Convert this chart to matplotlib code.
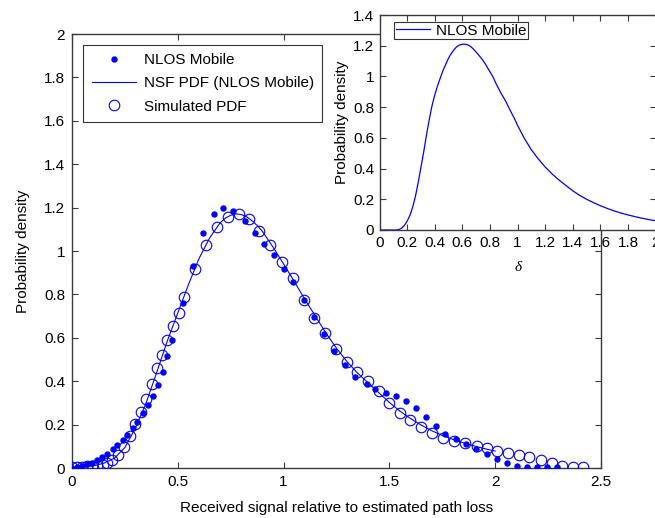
import matplotlib
matplotlib.use("Agg")
import matplotlib.pyplot as plt
import numpy as np

plt.rcParams['font.family'] = ['Liberation Sans', 'DejaVu Sans']

# Measured data (NLOS Mobile)
meas_x = [0, 0.023, 0.046, 0.069, 0.093, 0.117, 0.140, 0.167, 0.192, 0.214, 0.239, 0.261,
          0.287, 0.309, 0.337, 0.359, 0.381, 0.405, 0.428, 0.450, 0.474, 0.526,
          0.573, 0.618, 0.669, 0.715, 0.762, 0.818, 0.863, 0.909, 0.953, 1.003, 1.046,
          1.098, 1.145, 1.192, 1.240, 1.288, 1.337, 1.393, 1.434, 1.482, 1.530, 1.577,
          1.627, 1.674, 1.718, 1.763, 1.813, 1.861, 1.908, 1.960, 2.007, 2.054, 2.101,
          2.151, 2.199, 2.246, 2.293]
meas_y = [0.002, 0.005, 0.010, 0.018, 0.025, 0.037, 0.049, 0.063, 0.088, 0.106, 0.129, 0.152,
          0.183, 0.213, 0.252, 0.290, 0.333, 0.382, 0.444, 0.514, 0.588, 0.759,
          0.931, 1.081, 1.170, 1.199, 1.186, 1.139, 1.085, 1.031, 0.982, 0.916, 0.859,
          0.774, 0.694, 0.618, 0.541, 0.475, 0.421, 0.388, 0.364, 0.348, 0.334, 0.310,
          0.275, 0.234, 0.193, 0.158, 0.134, 0.112, 0.088, 0.065, 0.040, 0.022, 0.009,
          0.003, 0.003, 0.003, 0.003]

# NSF PDF fit curve
fit_x = [0, 0.05, 0.10, 0.15, 0.20, 0.25, 0.30, 0.35, 0.40, 0.45, 0.50, 0.55, 0.60, 0.65,
         0.70, 0.725, 0.75, 0.775, 0.80, 0.825, 0.85, 0.875, 0.90, 0.95, 1.00, 1.05, 1.10,
         1.15, 1.20, 1.25, 1.30, 1.35, 1.40, 1.45, 1.50, 1.55, 1.60, 1.65, 1.70, 1.75,
         1.80, 1.85, 1.90, 1.95, 2.00]
fit_y = [0, 0.004, 0.010, 0.022, 0.045, 0.095, 0.185, 0.300, 0.440, 0.585, 0.715, 0.845,
         0.965, 1.060, 1.130, 1.152, 1.165, 1.171, 1.168, 1.158, 1.140, 1.118, 1.090,
         1.018, 0.940, 0.860, 0.778, 0.700, 0.622, 0.552, 0.490, 0.437, 0.392, 0.347,
         0.302, 0.262, 0.228, 0.198, 0.172, 0.150, 0.132, 0.116, 0.102, 0.089, 0.078]

# Simulated PDF
sim_x = [0, 0.024, 0.048, 0.072, 0.096, 0.120, 0.144, 0.166, 0.190, 0.218, 0.246, 0.273,
         0.298, 0.325, 0.348, 0.376, 0.400, 0.424, 0.447, 0.476, 0.507, 0.529,
         0.581, 0.633, 0.684, 0.736, 0.789, 0.838, 0.885, 0.934, 0.991, 1.043, 1.098,
         1.145, 1.194, 1.246, 1.298, 1.348, 1.397, 1.449, 1.498, 1.549, 1.599, 1.651,
         1.703, 1.755, 1.807, 1.859, 1.912, 1.960, 2.010, 2.062, 2.112, 2.161, 2.215,
         2.267, 2.314, 2.369, 2.416]
sim_y = [0.005, 0.005, 0.006, 0.007, 0.009, 0.012, 0.016, 0.022, 0.037, 0.060, 0.097, 0.148,
         0.205, 0.256, 0.320, 0.388, 0.459, 0.520, 0.590, 0.654, 0.716, 0.790,
         0.918, 1.028, 1.109, 1.158, 1.171, 1.146, 1.094, 1.028, 0.951, 0.874, 0.776,
         0.690, 0.622, 0.548, 0.487, 0.444, 0.401, 0.355, 0.298, 0.252, 0.220, 0.190,
         0.163, 0.139, 0.124, 0.114, 0.100, 0.091, 0.079, 0.068, 0.060, 0.052, 0.037,
         0.025, 0.009, 0.006, 0.006]

# Inset curve
ins_x = [0, 0.12, 0.14, 0.16, 0.18, 0.20, 0.22, 0.24, 0.26, 0.28, 0.30, 0.32, 0.34, 0.36,
         0.38, 0.40, 0.42, 0.44, 0.46, 0.48, 0.50, 0.52, 0.54, 0.56, 0.58, 0.60, 0.62,
         0.64, 0.66, 0.68, 0.70, 0.72, 0.74, 0.76, 0.78, 0.80, 0.82, 0.84, 0.86, 0.88,
         0.90, 0.92, 0.94, 0.96, 0.98, 1.00, 1.05, 1.10, 1.15, 1.20, 1.25, 1.30, 1.35,
         1.40, 1.45, 1.50, 1.55, 1.60, 1.65, 1.70, 1.75, 1.80, 1.85, 1.90, 1.95, 2.00]
ins_y = [0, 0, 0.003, 0.012, 0.030, 0.058, 0.095, 0.150, 0.220, 0.310, 0.410, 0.510,
         0.620, 0.720, 0.810, 0.880, 0.940, 0.990, 1.040, 1.080, 1.120, 1.150, 1.175,
         1.195, 1.205, 1.210, 1.210, 1.205, 1.195, 1.178, 1.158, 1.137, 1.115, 1.090,
         1.060, 1.030, 1.000, 0.960, 0.925, 0.890, 0.860, 0.828, 0.790, 0.755, 0.720,
         0.680, 0.595, 0.522, 0.462, 0.410, 0.365, 0.325, 0.290, 0.255, 0.225, 0.200,
         0.178, 0.158, 0.140, 0.124, 0.110, 0.098, 0.087, 0.077, 0.068, 0.060]

BLUE = '#0000ff'
SPINE = '#3a3a3a'
FS = 11

fig = plt.figure(figsize=(6.55, 5.18), dpi=100)
ax = fig.add_axes([0.110, 0.0965, 0.8075, 0.8378])
ax.plot(meas_x, meas_y, linestyle='none', marker='o', markersize=4.6, color=BLUE,
        markeredgewidth=0, label='NLOS Mobile', zorder=3)
ax.plot(fit_x, fit_y, color=BLUE, linewidth=0.8, label='NSF PDF (NLOS Mobile)', zorder=2)
ax.plot(sim_x, sim_y, linestyle='none', marker='o', markersize=7.6, markerfacecolor='none',
        markeredgecolor=BLUE, markeredgewidth=0.8, label='Simulated PDF', zorder=4)
ax.set_xlim(0, 2.5)
ax.set_ylim(0, 2)
ax.set_xticks(np.arange(0, 2.51, 0.5))
ax.set_xticklabels(['0', '0.5', '1', '1.5', '2', '2.5'])
ax.set_yticks(np.arange(0, 2.01, 0.2))
ax.set_yticklabels(['0', '0.2', '0.4', '0.6', '0.8', '1', '1.2', '1.4', '1.6', '1.8', '2'])
ax.tick_params(direction='in', top=True, right=True, length=4, width=0.8, color=SPINE,
               labelsize=FS, pad=5)
for s in ax.spines.values():
    s.set_color(SPINE)
    s.set_linewidth(1.0)
ax.set_xlabel('Received signal relative to estimated path loss', fontsize=FS, labelpad=9)
ax.set_ylabel('Probability density', fontsize=FS, labelpad=10)
leg = ax.legend(loc='upper left', bbox_to_anchor=(0.021, 0.975), fontsize=FS,
                frameon=True, fancybox=False, edgecolor='black', borderpad=0.55,
                labelspacing=0.6, handlelength=2.9, handletextpad=0.5, borderaxespad=0)
leg.get_frame().set_linewidth(0.8)

axi = fig.add_axes([0.5795, 0.556, 0.4215, 0.415])
axi.plot(ins_x, ins_y, color=BLUE, linewidth=0.9, label='NLOS Mobile')
axi.set_xlim(0, 2)
axi.set_ylim(0, 1.4)
axi.set_xticks(np.arange(0, 2.01, 0.2))
axi.set_xticklabels(['0', '0.2', '0.4', '0.6', '0.8', '1', '1.2', '1.4', '1.6', '1.8', '2'])
axi.set_yticks(np.arange(0, 1.41, 0.2))
axi.set_yticklabels(['0', '0.2', '0.4', '0.6', '0.8', '1', '1.2', '1.4'])
axi.tick_params(direction='in', top=True, right=True, length=4, width=0.8, color=SPINE,
                labelsize=FS, pad=4)
for s in axi.spines.values():
    s.set_color(SPINE)
    s.set_linewidth(1.0)
axi.set_xlabel('δ', fontsize=FS, labelpad=8, family=['Liberation Serif', 'DejaVu Serif'],
               style='italic')
axi.set_ylabel('Probability density', fontsize=FS, labelpad=3)
legi = axi.legend(loc='upper left', bbox_to_anchor=(0.054, 0.967), fontsize=FS, frameon=True,
                  fancybox=False, edgecolor='black', borderpad=0.1, handlelength=2.2,
                  handletextpad=0.4, borderaxespad=0)
legi.get_frame().set_linewidth(0.8)

fig.savefig('out.png', dpi=100)
